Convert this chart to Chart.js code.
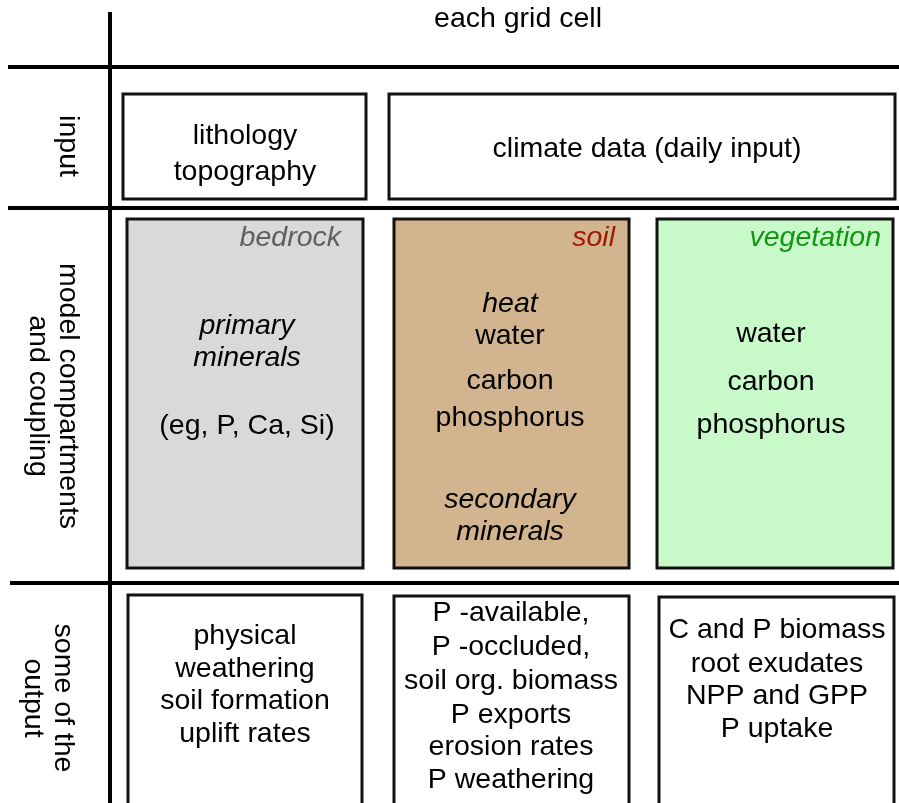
<!DOCTYPE html>
<html>
<head>
<meta charset="utf-8">
<script src="https://cdn.jsdelivr.net/npm/chart.js@4.4.1/dist/chart.umd.min.js"></script>
<style>
    html, body { margin: 0; padding: 0; background: #ffffff; }
    #schemeChart { display: block; }
</style>
</head>
<body>
<canvas id="schemeChart" width="899" height="803"></canvas>
<script>
// ---- content of the scheme ----
const headerLabel = 'each grid cell';
const rowLabels = [['input'], ['model compartments', 'and coupling'], ['some of the', 'output']];
const compartmentLabels = ['bedrock', 'soil', 'vegetation'];

const inputTexts = [['lithology', 'topography'], ['climate data (daily input)']];
const compartmentTexts = [
    ['primary', 'minerals', '(eg, P, Ca, Si)'],
    ['heat', 'water', 'carbon', 'phosphorus', 'secondary', 'minerals'],
    ['water', 'carbon', 'phosphorus']
];
const compartmentItalic = [
    [true, true, false],
    [true, false, false, false, true, true],
    [false, false, false]
];
const outputTexts = [
    ['physical', 'weathering', 'soil formation', 'uplift rates'],
    ['P -available,', 'P -occluded,', 'soil org. biomass', 'P exports', 'erosion rates', 'P weathering'],
    ['C and P biomass', 'root exudates', 'NPP and GPP', 'P uptake']
];

// ---- layout (diagram units = pixels of the 899 x 803 sheet) ----
const dividerX = 110;
const dividerYs = [67, 208, 583];

const inputBoxes = [[123, 366, 94, 199], [389, 895, 94, 199]];
const compartmentBoxes = [[127, 363, 219, 568], [394, 629, 219, 568], [657, 893, 219, 568]];
const outputBoxes = [[128, 362, 595, 812], [394, 629, 596, 812], [659, 894, 597, 812]];

const headerPos = [518, 19];
const rowLabelPos = [[68, 146], [53, 396], [48, 698]];
const inputTextCenter = [[245, [136, 172]], [647, [149]]];
const compartmentLabelRight = [341, 615, 881];
const compartmentLabelY = 238;
const compartmentTextX = [247, 510, 771];
const compartmentTextY = [
    [326, 358, 426],
    [304, 336, 381, 418, 500, 532],
    [334, 382, 425]
];
const outputTextX = [245, 511, 777];
const outputTextY = [
    [636, 669, 701, 734],
    [613, 647, 681, 715, 747, 780],
    [630, 664, 696, 729]
];

// ---- styles ----
const FONT_FAMILY = '"Liberation Sans", Arial, sans-serif';
const FONT_SIZE = 28.5;
const compartmentFills = ['#d9d9d9', '#d2b48f', '#c8f9c8'];
const compartmentLabelColors = ['#5f5f5f', '#a01a00', '#139613'];

// divider lines go in as plain line datasets
function dividerDatasets() {
    const sets = [{
        data: [{ x: dividerX, y: 12 }, { x: dividerX, y: 803 }]
    }];
    dividerYs.forEach((y, i) => {
        sets.push({ data: [{ x: i === 2 ? 10 : 8, y: y }, { x: 899, y: y }] });
    });
    return sets.map(s => Object.assign(s, {
        showLine: true,
        borderColor: '#000000',
        borderWidth: 4,
        pointRadius: 0,
        fill: false
    }));
}

// boxes and their text, drawn with the chart scales
const schemePlugin = {
    id: 'scheme',
    beforeDatasetsDraw(chart) {
        const ctx = chart.ctx;
        const xs = chart.scales.x;
        const ys = chart.scales.y;
        const px = v => xs.getPixelForValue(v);
        const py = v => ys.getPixelForValue(v);

        function box(b, fill) {
            const x0 = px(b[0]), x1 = px(b[1]), y0 = py(b[2]), y1 = py(b[3]);
            ctx.save();
            ctx.fillStyle = fill;
            ctx.fillRect(x0, y0, x1 - x0, y1 - y0);
            ctx.lineWidth = 3;
            ctx.strokeStyle = '#111111';
            ctx.strokeRect(x0, y0, x1 - x0, y1 - y0);
            ctx.restore();
        }

        inputBoxes.forEach(b => box(b, '#ffffff'));
        compartmentBoxes.forEach((b, i) => box(b, compartmentFills[i]));
        outputBoxes.forEach(b => box(b, '#ffffff'));
    },
    afterDatasetsDraw(chart) {
        const ctx = chart.ctx;
        const xs = chart.scales.x;
        const ys = chart.scales.y;
        const px = v => xs.getPixelForValue(v);
        const py = v => ys.getPixelForValue(v);

        function text(str, x, y, opts) {
            opts = opts || {};
            ctx.save();
            ctx.font = (opts.italic ? 'italic ' : '') + FONT_SIZE + 'px ' + FONT_FAMILY;
            ctx.fillStyle = opts.color || '#000000';
            ctx.textAlign = opts.align || 'center';
            ctx.textBaseline = 'middle';
            ctx.fillText(str, px(x), py(y));
            ctx.restore();
        }

        text(headerLabel, headerPos[0], headerPos[1]);

        // row titles, turned to read top to bottom
        rowLabels.forEach((lines, r) => {
            ctx.save();
            ctx.translate(px(rowLabelPos[r][0]), py(rowLabelPos[r][1]));
            ctx.rotate(Math.PI / 2);
            ctx.font = FONT_SIZE + 'px ' + FONT_FAMILY;
            ctx.fillStyle = '#000000';
            ctx.textAlign = 'center';
            ctx.textBaseline = 'middle';
            const off = (lines.length - 1) * 15;
            lines.forEach((l, k) => ctx.fillText(l, 0, k * 30 - off));
            ctx.restore();
        });

        inputTexts.forEach((lines, i) => {
            lines.forEach((l, k) => text(l, inputTextCenter[i][0], inputTextCenter[i][1][k]));
        });

        compartmentLabels.forEach((l, i) => {
            text(l, compartmentLabelRight[i], compartmentLabelY,
                { italic: true, color: compartmentLabelColors[i], align: 'right' });
        });

        compartmentTexts.forEach((lines, i) => {
            lines.forEach((l, k) => text(l, compartmentTextX[i], compartmentTextY[i][k],
                { italic: compartmentItalic[i][k] }));
        });

        outputTexts.forEach((lines, i) => {
            lines.forEach((l, k) => text(l, outputTextX[i], outputTextY[i][k]));
        });
    }
};

new Chart(document.getElementById('schemeChart'), {
    type: 'scatter',
    data: { datasets: dividerDatasets() },
    options: {
        responsive: false,
        animation: false,
        devicePixelRatio: 1,
        layout: { padding: 0 },
        scales: {
            x: { type: 'linear', min: 0, max: 899, display: false },
            y: { type: 'linear', min: 0, max: 803, reverse: true, display: false }
        },
        plugins: {
            legend: { display: false },
            tooltip: { enabled: false }
        }
    },
    plugins: [schemePlugin]
});
</script>
</body>
</html>
